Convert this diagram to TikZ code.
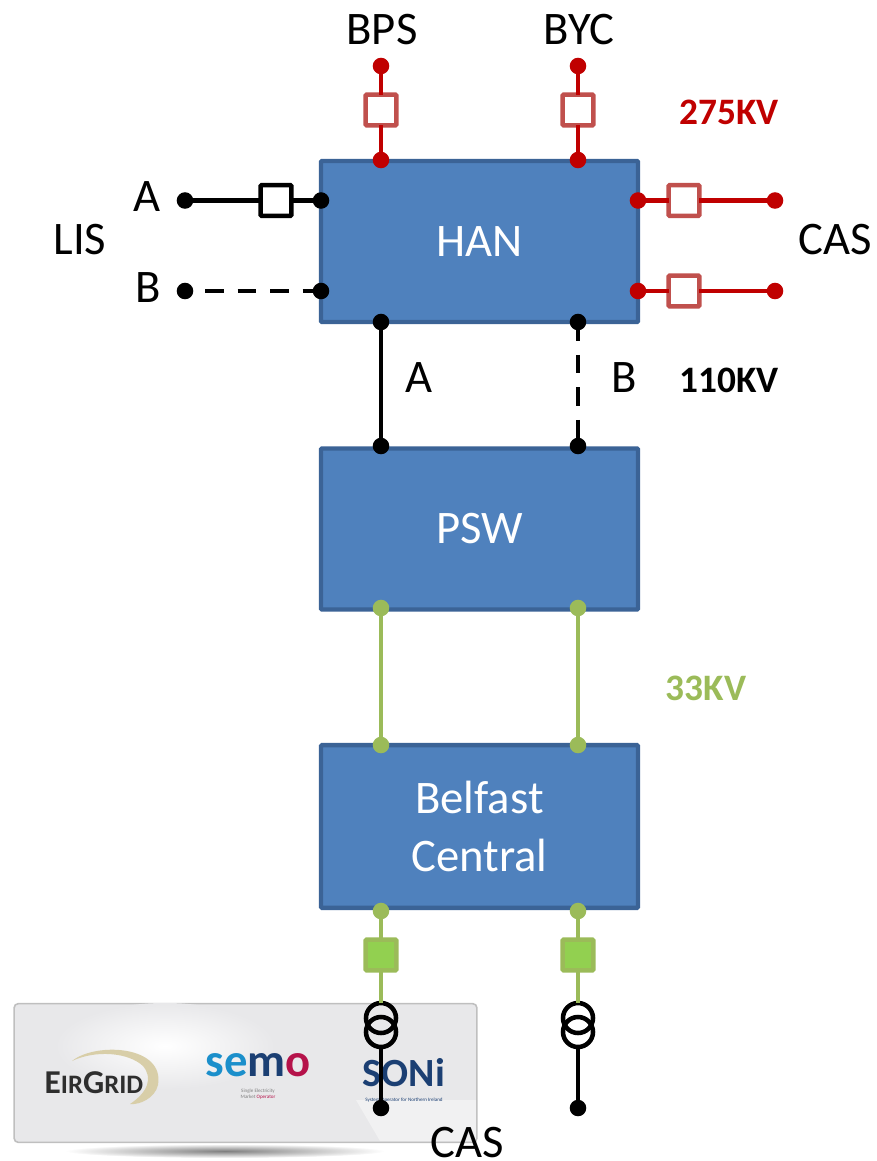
\documentclass[tikz,border=0pt]{standalone}
\usepackage{fontspec}
\setmainfont{Carlito}
\usetikzlibrary{positioning,calc}
\definecolor{boxfill}{HTML}{4F81BD}
\definecolor{boxedge}{HTML}{3B6396}
\definecolor{hvred}{HTML}{C00000}
\definecolor{brkred}{HTML}{C0504D}
\definecolor{lvgreen}{HTML}{9BBB59}
\definecolor{brkgreen}{HTML}{92D050}
\definecolor{logoblue}{HTML}{1B3F73}
\definecolor{semoblue}{HTML}{1B8FCB}
\definecolor{semored}{HTML}{B5124A}
\definecolor{swoosh}{HTML}{D8CEA8}
\definecolor{panelgrey}{HTML}{E8E8EA}

\begin{document}
\begin{tikzpicture}[
    x=0.75pt, y=-0.75pt,
    station/.style={draw=boxedge, fill=boxfill, line width=3.3pt, rounded corners=0.8pt, minimum width=237.8pt, minimum height=120.8pt, outer sep=0pt, text=white, align=center, font=\fontsize{35}{43.5}\selectfont},
    lbl/.style={inner sep=0pt, font=\fontsize{35}{40}\selectfont},
    kvlbl/.style={inner sep=0pt, font=\bfseries\fontsize{28}{32}\selectfont},
    dotblack/.style={circle, fill=black, minimum size=12.4pt, inner sep=0pt, outer sep=0pt},
    dotred/.style={dotblack, fill=hvred},
    dotgreen/.style={dotblack, fill=lvgreen},
    brkblack/.style={draw=black, fill=white, line width=3.4pt, rounded corners=0.8pt, minimum size=23pt, inner sep=0pt, outer sep=0pt},
    brkhv/.style={brkblack, draw=brkred},
    brklv/.style={brkblack, draw=lvgreen, fill=brkgreen},
    coil/.style={circle, draw=black, line width=3.4pt, minimum size=22.5pt, inner sep=0pt, outer sep=0pt},
    blackline/.style={line width=3.2pt, black},
    blackdash/.style={blackline, dash pattern=on 14pt off 10.4pt},
    redline/.style={line width=3.2pt, hvred},
    greenline/.style={line width=3.2pt, lvgreen},
    logotiny/.style={inner sep=0pt, font=\fontsize{3.8}{4.4}\selectfont}
]
\useasboundingbox (0,0) rectangle (877,1161);

\shade[inner color=black!50, outer color=white] (225,1151) ellipse (160 and 7);
\node[draw=black!25, fill=panelgrey, line width=1.2pt, rounded corners=3pt, minimum width=347pt, minimum height=104pt, inner sep=0pt] (panel) at (245.5,1073) {};
\shade[inner color=white, outer color=panelgrey] (165,1046) ellipse (110 and 43);
\fill[white, opacity=0.4] (356,1100) -- (380,1141) -- (476,1141) -- (476,1100) -- cycle;
\fill[swoosh] (72,1061) .. controls (95,1042) and (165,1045) .. (158,1085) .. controls (155,1098) and (140,1105) .. (130,1104) .. controls (148,1092) and (153,1078) .. (143,1066) .. controls (128,1052) and (95,1050) .. cycle;
\node[inner sep=0pt, text=black!82, font=\bfseries\fontsize{25}{25}\selectfont] (eirgrid) at (94,1083) {E{\fontsize{20}{25}\selectfont IR}G{\fontsize{20}{25}\selectfont RID}};
\node[inner sep=0pt, text=semoblue, font=\bfseries\fontsize{35}{35}\selectfont] (semo) at (258,1065) {se\textcolor{logoblue}{m}\textcolor{semored}{o}};
\node[logotiny, text=black!50, align=center, below=9pt of semo] (semosub) {Single Electricity\\Market \textcolor{semored}{Operator}};
\node[inner sep=0pt, text=logoblue, font=\bfseries\fontsize{30}{30}\selectfont] (soni) at (404,1073) {SONi};
\node[logotiny, text=logoblue, below=8pt of soni] (sonisub) {System Operator for Northern Ireland};

\node[station] (han) at (479.5,241.5) {HAN};
\node[station] (psw) at (479.5,529) {PSW};
\node[station, minimum height=122pt] (bel) at (479.5,826.5) {Belfast\\Central};

\node[dotred] (bpstop) at (381,66) {};
\node[brkhv] (bpsbrk) at (381,110) {};
\node[dotred] (bpshan) at (381,160) {};
\node[dotred] (byctop) at (578,66) {};
\node[brkhv] (bycbrk) at (578,110) {};
\node[dotred] (bychan) at (578,160) {};
\draw[redline] (bpstop) -- (bpsbrk);
\draw[redline] (bpsbrk) -- (bpshan);
\draw[redline] (byctop) -- (bycbrk);
\draw[redline] (bycbrk) -- (bychan);

\node[dotblack] (lisa) at (185,200.5) {};
\node[brkblack] (lisbrk) at (276,200.5) {};
\node[dotblack] (lisahan) at (321,200.5) {};
\node[dotblack] (lisb) at (185,291) {};
\node[dotblack] (lisbhan) at (321,291) {};
\draw[blackline] (lisa) -- (lisbrk);
\draw[blackline] (lisbrk) -- (lisahan);
\draw[blackdash, dash phase=15.5pt] (lisb) -- (lisbhan);

\node[dotred] (casahan) at (638,200.5) {};
\node[brkhv] (casabrk) at (684,200.5) {};
\node[dotred] (casa) at (775,200.5) {};
\node[dotred] (casbhan) at (638,291) {};
\node[brkhv] (casbbrk) at (684,291) {};
\node[dotred] (casb) at (775,291) {};
\draw[redline] (casahan) -- (casabrk);
\draw[redline] (casabrk) -- (casa);
\draw[redline] (casbhan) -- (casbbrk);
\draw[redline] (casbbrk) -- (casb);

\node[dotblack] (hana) at (381,322) {};
\node[dotblack] (hanb) at (578,322) {};
\node[dotblack] (pswa) at (381,446) {};
\node[dotblack] (pswb) at (578,446) {};
\draw[blackline] (hana) -- (pswa);
\draw[blackdash, dash phase=6pt] (hanb) -- (pswb);

\node[dotgreen] (pswc) at (381,608) {};
\node[dotgreen] (pswd) at (578,608) {};
\node[dotgreen] (belc) at (381,745) {};
\node[dotgreen] (beld) at (578,745) {};
\draw[greenline] (pswc) -- (belc);
\draw[greenline] (pswd) -- (beld);

\node[dotgreen] (bele) at (381,911) {};
\node[dotgreen] (belf) at (578,911) {};
\node[brklv] (ebrk) at (381,955) {};
\node[brklv] (fbrk) at (578,955) {};
\node[coil] (etop) at (381,1018) {};
\node[coil] (ebot) at (381,1032) {};
\node[coil] (ftop) at (578,1018) {};
\node[coil] (fbot) at (578,1032) {};
\node[dotblack] (ecas) at (381,1108) {};
\node[dotblack] (fcas) at (578,1108) {};
\draw[greenline] (bele) -- (ebrk);
\draw[greenline] (ebrk) -- (etop);
\draw[greenline] (belf) -- (fbrk);
\draw[greenline] (fbrk) -- (ftop);
\draw[blackline] (ebot) -- (ecas);
\draw[blackline] (fbot) -- (fcas);

\node[lbl] (bpslbl) at (382,30) {BPS};
\node[lbl] (byclbl) at (579,30) {BYC};
\node[lbl] (alisa) at (147,197) {A};
\node[lbl] (blisb) at (148,288) {B};
\node[lbl] (lislbl) at (80,240) {LIS};
\node[lbl] (caslbl) at (835,240) {CAS};
\node[lbl] (alin) at (419,378) {A};
\node[lbl] (blin) at (624,378) {B};
\node[lbl] (caslow) at (467,1143) {CAS};
\node[kvlbl, text=hvred] (kva) at (729,112) {275KV};
\node[kvlbl, text=black] (kvb) at (729,380) {110KV};
\node[kvlbl, text=lvgreen] (kvc) at (706,688) {33KV};
\end{tikzpicture}
\end{document}
